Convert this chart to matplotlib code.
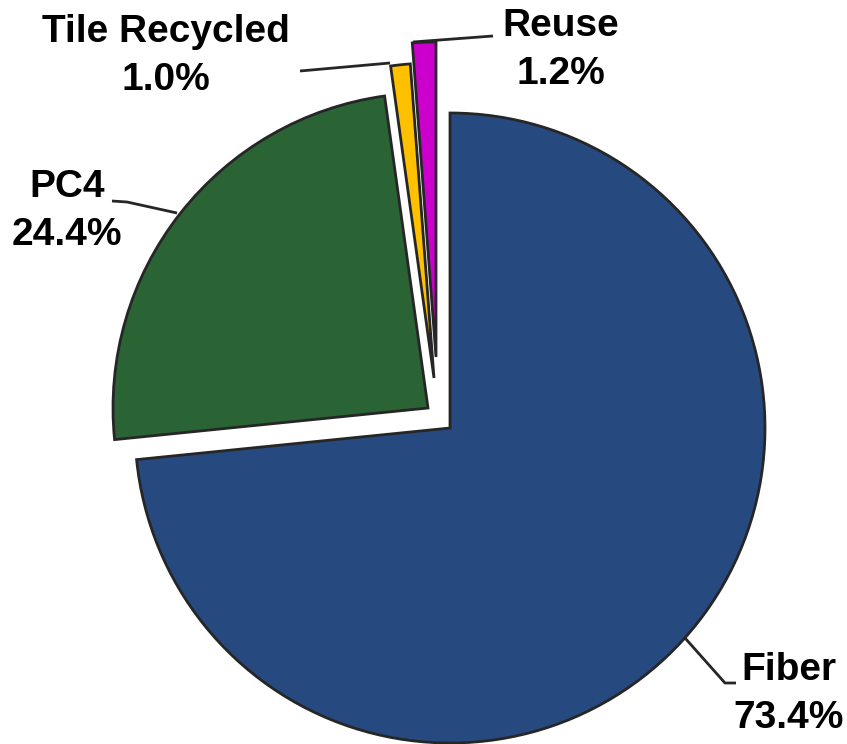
import matplotlib
matplotlib.use("Agg")
import matplotlib.pyplot as plt

# Waste stream shares (percent)
categories = ["Fiber", "PC4", "Tile Recycled", "Reuse"]
shares = [73.4, 24.4, 1.0, 1.2]
colors = ["#264a80", "#2a6334", "#ffc000", "#cc00cc"]

W, H = 847, 744
fig = plt.figure(figsize=(W / 100, H / 100), dpi=100)
ax = fig.add_axes([0, 0, 1, 1])

center = (450, H - 428)
radius = 315

wedges, _ = ax.pie(
    shares,
    colors=colors,
    startangle=90,
    counterclock=False,
    center=center,
    radius=radius,
    wedgeprops=dict(edgecolor="#262626", linewidth=2.0),
    frame=True,
)
ax.set_xlim(0, W)
ax.set_ylim(0, H)
ax.set_aspect("equal")
ax.axis("off")

# Pulled-out slices (pixel offsets of each wedge apex)
pull = {"PC4": (-22, 20), "Tile Recycled": (-16, 50), "Reuse": (-14, 71)}
for w, name in zip(wedges, categories):
    if name in pull:
        dx, dy = pull[name]
        w.set_center((center[0] + dx, center[1] + dy))

# Labels with leader lines
label_pos = {
    "Fiber": (789, H - 694),
    "PC4": (67, H - 211),
    "Tile Recycled": (166, H - 56),
    "Reuse": (561, H - 50),
}
leaders = {
    "Fiber": [(685, 638), (725, 683), (736, 683)],
    "PC4": [(112, 201), (127, 202), (177, 213)],
    "Tile Recycled": [(300, 71), (390, 63)],
    "Reuse": [(413, 42), (493, 36)],
}
for name, val in zip(categories, shares):
    x, y = label_pos[name]
    ax.text(x, y, f"{name}\n{val:.1f}%", ha="center", va="center",
            multialignment="center", fontsize=28, fontweight="bold",
            family=["Liberation Sans", "DejaVu Sans"], linespacing=1.42,
            color="black")
    pts = leaders[name]
    ax.plot([p[0] for p in pts], [H - p[1] for p in pts],
            color="#262626", linewidth=2.0, solid_capstyle="butt", zorder=3)

fig.savefig("out.png", dpi=100)
